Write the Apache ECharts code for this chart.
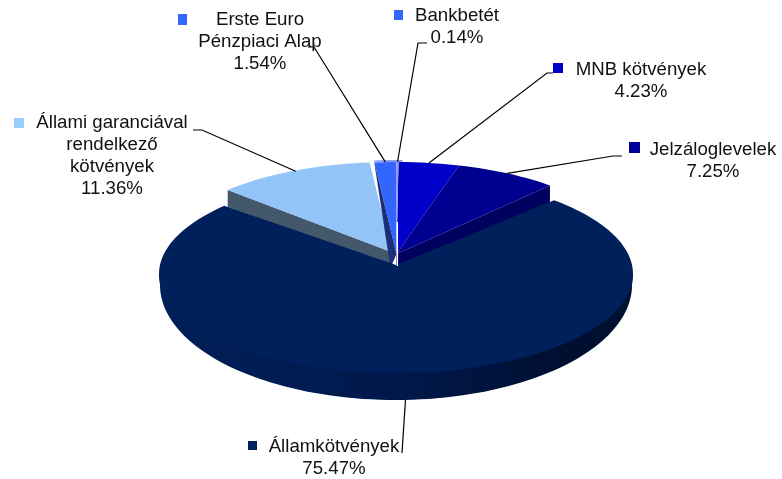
<!DOCTYPE html>
<html>
<head>
<meta charset="utf-8">
<style>html,body{margin:0;padding:0;background:#fff}#chart{width:782px;height:479px}</style>
<script src="https://cdn.jsdelivr.net/npm/echarts@6/dist/echarts.min.js"></script>
</head>
<body>
<div id="chart"></div>
<script>
const names = ['Bankbetét', 'MNB kötvények', 'Jelzáloglevelek', 'Államkötvények', 'Állami garanciával\nrendelkező\nkötvények', 'Erste Euro\nPénzpiaci Alap']
const shares = [0.14, 4.23, 7.25, 75.47, 11.36, 1.54]
const total = shares.reduce((a, b) => a + b, 0)

const topColors = ['#8c9cf4', '#0000c8', '#000090', '#00205c', '#93c4f8', '#3366ff']
const wallColors = ['#8c9cf4', '#000070', '#00005e', '#00205c', '#44586c', '#1b2f78']
const markerColors = ['#3366ff', '#0000cc', '#000099', '#002060', '#99ccff', '#3366ff']

// the big slice sits lower and wider than the rest of the pie
const smallPie = { cx: 396.5, cy: 254, rx: 230, ry: 92, depth: 14 }
const bluePie = { cx: 391.5, cy: 252, rx: 226, ry: 90 }
const bigPie = { cx: 396, cy: 274, rx: 237, ry: 99, apexY: 265 }
const bigFloor = { cy: 285, rx: 236, ry: 115 }

// label box and leader elbow for each slice
const labelLayout = [
  { x: 457, y: 27, marker: [394, 10, 9, 10], elbow: [[427, 43], [418, 43]] },
  { x: 641, y: 80.5, marker: [553, 63, 10, 10], elbow: [[553, 73], [547, 73]] },
  { x: 713, y: 160.5, marker: [629, 142, 11, 11], elbow: [[622, 156], [613, 156]] },
  { x: 334, y: 457.5, marker: [248, 441, 9, 9], elbow: [[402, 453]] },
  { x: 112, y: 156, marker: [14, 118, 10, 10], elbow: [[193, 130], [202, 130]] },
  { x: 260, y: 42, marker: [178, 14, 9, 11], elbow: [[308, 47], [314, 47]] }
]

const pt = (p, deg) => {
  const r = deg * Math.PI / 180
  return [p.cx + p.rx * Math.sin(r), p.cy - p.ry * Math.cos(r)]
}
const arc = (p, from, to) => {
  const out = []
  const n = Math.max(2, Math.ceil(Math.abs(to - from) / 2))
  for (let i = 0; i <= n; i++) out.push(pt(p, from + (to - from) * i / n))
  return out
}

const renderSlice = (params, api) => {
  const i = params.dataIndex
  let before = 0
  for (let k = 0; k < i; k++) before += shares[k]
  const a0 = before / total * 360
  const a1 = (before + api.value(0)) / total * 360
  const mid = (a0 + a1) / 2
  const kids = []
  const poly = (points, fill, z2) => kids.push({ type: 'polygon', z2, shape: { points }, style: { fill, stroke: null } })
  const big = i === 3
  let anchor

  if (big) {
    const floor = { cx: bigPie.cx, cy: bigFloor.cy, rx: bigFloor.rx, ry: bigFloor.ry }
    const rim = arc(floor, 90, 270)
    poly([pt(bigPie, 90)].concat(rim, [pt(bigPie, 270)]), new echarts.graphic.LinearGradient(0, 0, 1, 0, [
      { offset: 0, color: '#001f58' },
      { offset: 0.5, color: '#00194c' },
      { offset: 0.85, color: '#000f30' },
      { offset: 1, color: '#00102f' }
    ]), 5)
    poly([[bigPie.cx, bigPie.apexY]].concat(arc(bigPie, a0, a1)), topColors[i], 6)
    anchor = pt(floor, mid)
  } else {
    // small slices: cut walls first, then the top face
    const d = smallPie.depth
    const p = i === 4 ? bluePie : smallPie
    const apex = [p.cx, p.cy]
    const apexLow = [p.cx, p.cy + d]
    if (i === 2) {
      const o = pt(p, a1)
      poly([apex, o, [o[0], o[1] + d + 3], apexLow], wallColors[i], 1)
    }
    if (i === 4) {
      const o = pt(p, a0)
      poly([apex, o, [o[0], o[1] + d + 3], apexLow], wallColors[i], 1)
    }
    if (i === 5) {
      poly([apex, pt(p, a0), [p.cx - 6, p.cy + d]], wallColors[i], 3)
    }
    if (i === 1) {
      poly([apex, [p.cx + 4, p.cy], [p.cx + 4, p.cy + d], apexLow], wallColors[i], 1)
    }
    if (i === 0 || i === 5) {
      // pale rim along the back edge
      const up = Object.assign({}, p, { cy: p.cy - 2 })
      poly(arc(up, a0, a1 + 1).concat(arc(p, a1 + 1, a0)), '#8c9cf4', 4)
    }
    poly([apex].concat(arc(p, a0, a1)), topColors[i], i === 0 ? 4 : 2)
    if (i === 0) {
      // the wedge closes up into a white slit near the centre
      kids.push({
        type: 'line', z2: 7,
        shape: { x1: p.cx + 0.8, y1: p.cy - 32, x2: p.cx + 0.8, y2: p.cy + 12 },
        style: { stroke: '#fff', lineWidth: 1.5 }
      })
    }
    anchor = pt(smallPie, mid)
  }

  const lay = labelLayout[i]
  kids.push({
    type: 'polyline', z2: 8,
    shape: { points: [anchor].concat(lay.elbow.slice().reverse()) },
    style: { stroke: '#000', lineWidth: 1.2, fill: null }
  })
  kids.push({
    type: 'rect', z2: 9,
    shape: { x: lay.marker[0], y: lay.marker[1], width: lay.marker[2], height: lay.marker[3] },
    style: { fill: markerColors[i] }
  })
  kids.push({
    type: 'text', z2: 9, x: lay.x, y: lay.y,
    style: {
      text: names[i] + '\n' + api.value(0).toFixed(2) + '%',
      fill: '#111', font: '18.67px "Liberation Sans"', lineHeight: 22, align: 'center', verticalAlign: 'middle'
    }
  })
  return { type: 'group', children: kids }
}

const chart = echarts.init(document.getElementById('chart'), null, { renderer: 'canvas' })
chart.setOption({
  animation: false,
  backgroundColor: '#fff',
  series: [{
    type: 'custom',
    coordinateSystem: 'none',
    silent: true,
    renderItem: renderSlice,
    data: shares.map((v, i) => ({ name: names[i], value: [v] }))
  }]
})
</script>
</body>
</html>
